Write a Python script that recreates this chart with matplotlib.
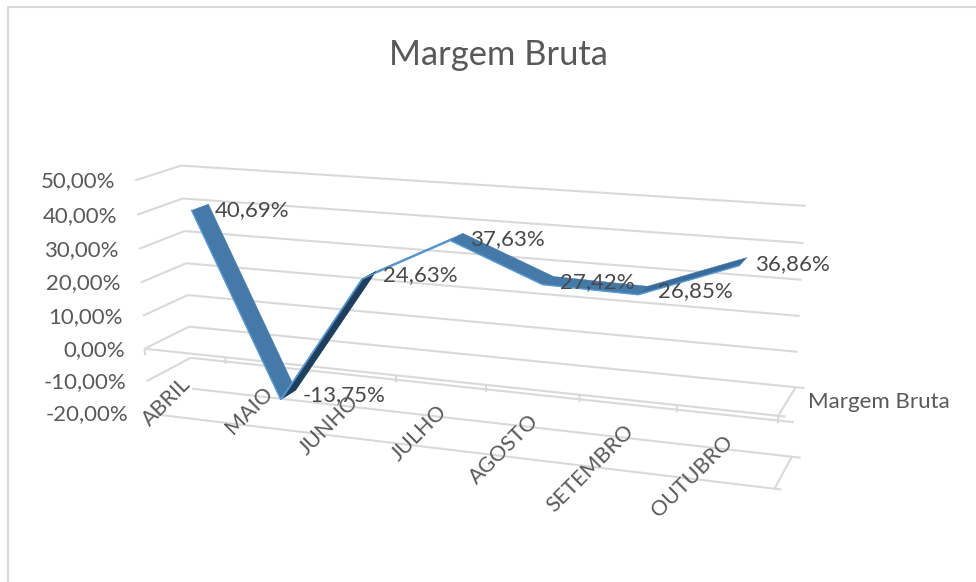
import numpy as np
import matplotlib
matplotlib.use("Agg")
import matplotlib.pyplot as plt
from matplotlib.transforms import Transform

months = ["ABRIL", "MAIO", "JUNHO", "JULHO", "AGOSTO", "SETEMBRO", "OUTUBRO"]
margem = [40.69, -13.75, 24.63, 37.63, 27.42, 26.85, 36.86]
value_ticks = [50, 40, 30, 20, 10, 0, -10, -20]
series_name = "Margem Bruta"

plt.rcParams["font.family"] = ["Lato", "DejaVu Sans"]
GRID = "#d9d9d9"
TEXT = "#595959"
LABEL = "#484848"
MAIN = "#4579a8"
LIGHT = "#5b9bd5"
DARK = "#1f3f5c"

# Camera calibration: (category position, value, depth) -> pixel position of the 3D box
CALIB = [
    (0, 50, 1, 182, 166), (0, 40, 1, 183, 199), (0, 30, 1, 184, 231), (0, 20, 1, 186, 263),
    (0, 10, 1, 188, 296), (0, 0, 1, 189, 327), (0, -10, 1, 190, 358), (0, -20, 1, 192, 388),
    (7, 50, 1, 805.6, 205.7), (7, 40, 1, 803.5, 243), (7, 30, 1, 801.5, 279), (7, 20, 1, 800, 316),
    (7, 10, 1, 798, 351), (7, 0, 1, 795, 387), (7, -20, 1, 792, 457),
    (0, 50, 0, 135, 180), (0, 40, 0, 137, 215), (0, 30, 0, 138, 248), (0, 20, 0, 141, 282),
    (0, 10, 0, 143, 316), (0, 0, 0, 145, 347), (0, -10, 0, 146, 381), (0, -20, 0, 148, 414),
    (7, 0, 0, 778, 415), (7, -20, 0, 775, 487),
    (1, 0, 0, 227, 357), (2, 0, 0, 310, 366), (3, 0, 0, 395, 376), (4, 0, 0, 487, 386),
    (5, 0, 0, 578, 397), (6, 0, 0, 677, 407),
]


def solve_camera(rows):
    A, b = [], []
    for u, v, w, px, py in rows:
        A.append([u, v, w, 1, 0, 0, 0, 0, -px * u, -px * v, -px * w]); b.append(px)
        A.append([0, 0, 0, 0, u, v, w, 1, -py * u, -py * v, -py * w]); b.append(py)
    sol = np.linalg.lstsq(np.array(A, float), np.array(b, float), rcond=None)[0]
    return np.append(sol, 1.0).reshape(3, 4)


CAMERA = solve_camera(CALIB)


class DepthPlane(Transform):
    """Maps (category position, value) on a plane of given box depth to pixels."""
    input_dims = 2
    output_dims = 2
    is_separable = False
    has_inverse = False

    def __init__(self, plane_depth):
        super().__init__()
        self.plane_depth = plane_depth

    def transform_non_affine(self, values):
        values = np.asarray(values, float)
        h = np.column_stack([values, np.full(len(values), self.plane_depth), np.ones(len(values))])
        p = h @ CAMERA.T
        return p[:, :2] / p[:, 2:3]


fig = plt.figure(figsize=(9.76, 5.82), dpi=100, facecolor="white")
ax = fig.add_axes([0, 0, 1, 1])
ax.set_xlim(0, 976)
ax.set_ylim(582, 0)
ax.axis("off")

# chart frame
ax.plot([8, 8, 976], [582, 7, 7], color=GRID, lw=1.5, zorder=1)

FRONT, BACK = DepthPlane(0.0), DepthPlane(1.0)
n = len(months)


def line3d(u0, v0, d0, u1, v1, d1, **kw):
    a = DepthPlane(d0).transform_non_affine(np.array([[u0, v0]]))[0]
    b = DepthPlane(d1).transform_non_affine(np.array([[u1, v1]]))[0]
    ax.plot([a[0], b[0]], [a[1], b[1]], color=GRID, lw=1.5, solid_capstyle="butt", zorder=2, **kw)


for v in value_ticks:
    stub = 7.09 if v in (0, -20) else 7
    line3d(0, v, 1, stub, v, 1)
    if v != -20:
        line3d(0, v, 0, 0, v, 1)
for v in (0, -20):
    line3d(0.12 if v == -20 else 0, v, 0, 7.07, v, 0)
    line3d(7, v, 0, 7, v, 1)
for i in range(n + 1):
    line3d(i, 0, 0, i, -2.0, 0)

# ribbon
W0, W1 = 0.30, 0.68
cx = np.arange(n) + 0.5
vals = np.array(margem)
colors = [MAIN, MAIN, "#4a86bd", MAIN, MAIN, "#386c9c"]


def quad(i, d0, d1, color, z):
    p = DepthPlane(d0).transform_non_affine(np.column_stack([cx[i:i + 2], vals[i:i + 2]]))
    q = DepthPlane(d1).transform_non_affine(np.column_stack([cx[i:i + 2], vals[i:i + 2]]))
    poly = np.vstack([p, q[::-1]])
    ax.fill(poly[:, 0], poly[:, 1], color=color, lw=0.3, zorder=z)


for i, c in enumerate(colors):
    quad(i, W0, W1, c, 3 + i * 0.01)
quad(1, W0 + 0.08, W1, DARK, 3.5)
ax.plot(cx, vals, transform=DepthPlane(W0) + ax.transData, color=LIGHT, lw=1.0, zorder=3.6,
        solid_joinstyle="miter")

# data labels
label_off = [(6, 6), (7, 5), (7, 4), (7, 6), (6, 6), (10, 5), (8, 7)]
back_pts = DepthPlane(W1).transform_non_affine(np.column_stack([cx, vals]))
for (x, y), val, (dx, dy) in zip(back_pts, margem, label_off):
    ax.text(x + dx, y + dy, f"{val:.2f}%".replace(".", ","), color=LABEL, fontsize=16,
            ha="left", va="center", zorder=5)

# value labels
for v, p in zip(value_ticks, FRONT.transform_non_affine(np.column_stack([np.zeros(len(value_ticks)), value_ticks]))):
    ax.text(p[0] - 20, p[1] + 1, f"{v:.2f}%".replace(".", ","), color=TEXT, fontsize=16,
            ha="right", va="center", zorder=5)

# category labels
for m, p in zip(months, FRONT.transform_non_affine(np.column_stack([cx, np.zeros(n)]))):
    ax.text(p[0] + 3, p[1] + 28, m, color=TEXT, fontsize=15.5, rotation=45, rotation_mode="anchor",
            ha="right", va="center", zorder=5)

# depth-axis series name and title
ax.text(808, 402.5, series_name, color=TEXT, fontsize=16, ha="left", va="center", zorder=5)
ax.text(498, 55, "Margem Bruta", color=TEXT, fontsize=24.8, ha="center", va="center", zorder=5)

fig.savefig("out.png", dpi=100, facecolor="white")
